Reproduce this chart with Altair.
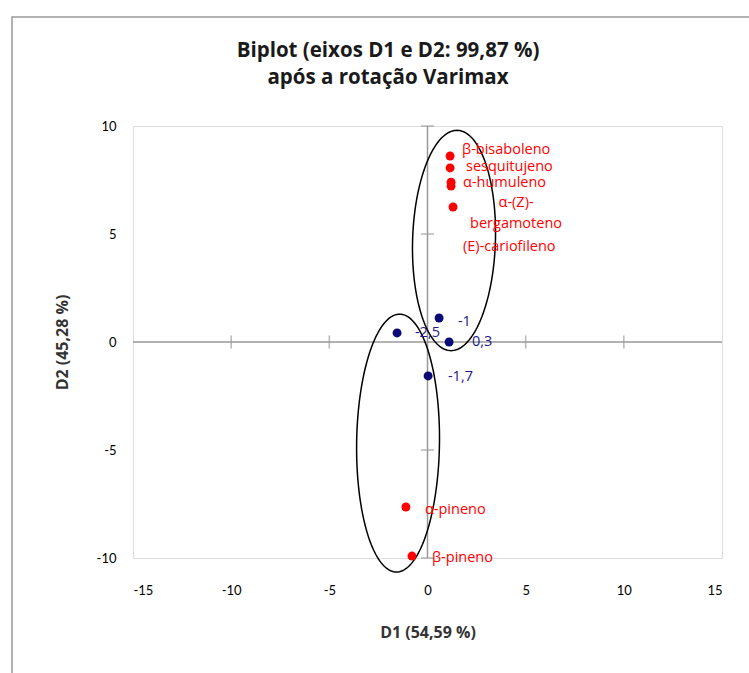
import altair as alt
import numpy as np
import pandas as pd

# ---- data ----
red_names = ["β-bisaboleno", "sesquitujeno", "α-humuleno", "(E)-cariofileno",
             "α-(Z)-bergamoteno", "α-pineno", "β-pineno"]
red_x = [1.15, 1.15, 1.2, 1.2, 1.3, -1.1, -0.79]
red_y = [8.61, 8.06, 7.4, 7.22, 6.25, -7.64, -9.91]
# label anchors (data units, left aligned)
red_lab_text = ["β-bisaboleno", "sesquitujeno", "α-humuleno", "(E)-cariofileno",
                "α-pineno", "β-pineno"]
red_lab_x = [1.76, 1.96, 1.81, 1.81, -0.13, 0.23]
red_lab_y = [8.89, 8.10, 7.36, 4.40, -7.78, -10.0]
# wrapped label (centre aligned)
wrap_text = ["α-(Z)-\nbergamoteno"]
wrap_x = [4.51]
wrap_y = [6.45]

blue_names = ["-1", "-2,5", "0,3", "-1,7"]
blue_x = [0.59, -1.55, 1.1, 0.03]
blue_y = [1.11, 0.42, 0.0, -1.57]
blue_lab_x = [1.55, -0.64, 2.27, 1.04]
blue_lab_y = [0.93, 0.42, 0.0, -1.62]

# confidence ellipses: centre, semi-axes, lean (data units)
ell_cx = [1.35, -1.5]
ell_cy = [4.7, -4.68]
ell_a = [2.11, 2.11]
ell_b = [5.1, 5.97]
ell_lean = [0.15, 0.08]

title_lines = ["Biplot (eixos D1 e D2: 99,87 %)", "após a rotação Varimax"]

x_ticks = [-15, -10, -5, 0, 5, 10, 15]
y_ticks = [-10, -5, 0, 5, 10]
cross_x = [-10, -5, 5, 10]
cross_y = [-10, -5, 5, 10]

FONT = "Lato"
LFONT = "Open Sans"

red_df = pd.DataFrame({"x": red_x, "y": red_y, "name": red_names})
red_lab_df = pd.DataFrame({"x": red_lab_x, "y": red_lab_y, "t": red_lab_text})
wrap_df = pd.DataFrame({"x": wrap_x, "y": wrap_y, "t": wrap_text})
blue_df = pd.DataFrame({"x": blue_x, "y": blue_y, "name": blue_names})
blue_lab_df = pd.DataFrame({"x": blue_lab_x, "y": blue_lab_y, "t": blue_names})

t = np.linspace(0, 2 * np.pi, 181)
rows = []
for k in range(len(ell_cx)):
    xs_ = ell_cx[k] + ell_a[k] * np.cos(t) + ell_lean[k] * np.sin(t)
    ys_ = ell_cy[k] + ell_b[k] * np.sin(t)
    for i, (xx, yy) in enumerate(zip(xs_, ys_)):
        rows.append({"x": xx, "y": yy, "e": k, "o": i})
ell_df = pd.DataFrame(rows)

xs = alt.Scale(domain=[-15, 15], nice=False, zero=False)
ys = alt.Scale(domain=[-10, 10], nice=False, zero=False)

base_x = alt.X("x:Q", scale=xs, title="D1 (54,59 %)",
               axis=alt.Axis(values=x_ticks, domain=False, ticks=False, grid=False,
                             labelExpr="datum.value + ''",
                             labelPadding=26, titlePadding=27, labelFontSize=13,
                             labelColor="#000000", titleFontSize=16, titleFontWeight="bold",
                             titleColor="#333333", labelFont=FONT, titleFont=LFONT))
base_y = alt.Y("y:Q", scale=ys, title="D2 (45,28 %)",
               axis=alt.Axis(values=y_ticks, domain=False, ticks=False, grid=False,
                             labelExpr="datum.value + ''",
                             labelPadding=17, titlePadding=26, labelFontSize=13,
                             labelColor="#000000", titleFontSize=16, titleFontWeight="bold",
                             titleColor="#333333", labelFont=FONT, titleFont=LFONT))

frame = alt.Chart(pd.DataFrame({"a": [0]})).mark_rect(
    fill=None, stroke="#999999", strokeWidth=1.5, clip=False
).encode(x=alt.value(-121), x2=alt.value(640), y=alt.value(-109), y2=alt.value(570))

title1 = alt.Chart(pd.DataFrame({"t": [title_lines[0]]})).mark_text(
    font=LFONT, fontSize=20.5, fontWeight="bold", color="#1a1a1a", align="center",
    baseline="middle", clip=False
).encode(text="t:N", x=alt.value(255), y=alt.value(-75))
title2 = alt.Chart(pd.DataFrame({"t": [title_lines[1]]})).mark_text(
    font=LFONT, fontSize=20.5, fontWeight="bold", color="#1a1a1a", align="center",
    baseline="middle", clip=False
).encode(text="t:N", x=alt.value(255), y=alt.value(-48))

zero_h = alt.Chart(pd.DataFrame({"y": [0]})).mark_rule(color="#999999", strokeWidth=1.5).encode(
    y=alt.Y("y:Q", scale=ys))
zero_v = alt.Chart(pd.DataFrame({"x": [0]})).mark_rule(color="#999999", strokeWidth=1.5).encode(
    x=alt.X("x:Q", scale=xs))

tick_x = alt.Chart(pd.DataFrame({"x": cross_x, "y": [0] * len(cross_x)})).mark_tick(
    color="#999999", thickness=1.5, size=13, orient="vertical").encode(
    x=alt.X("x:Q", scale=xs), y=alt.Y("y:Q", scale=ys))
tick_y = alt.Chart(pd.DataFrame({"x": [0] * len(cross_y), "y": cross_y})).mark_tick(
    color="#999999", thickness=1.5, size=13, orient="horizontal").encode(
    x=alt.X("x:Q", scale=xs), y=alt.Y("y:Q", scale=ys))

ellipses = alt.Chart(ell_df).mark_line(color="#000000", strokeWidth=1.5).encode(
    x=alt.X("x:Q", scale=xs), y=alt.Y("y:Q", scale=ys), detail="e:N", order="o:Q")

axes_layer = alt.Chart(red_df).mark_point(opacity=0).encode(x=base_x, y=base_y)

red_pts = alt.Chart(red_df).mark_circle(color="#FF0000", size=80, opacity=1).encode(
    x=alt.X("x:Q", scale=xs), y=alt.Y("y:Q", scale=ys))
blue_pts = alt.Chart(blue_df).mark_circle(color="#0A0A78", size=80, opacity=1).encode(
    x=alt.X("x:Q", scale=xs), y=alt.Y("y:Q", scale=ys))

LSIZE = 14.5
red_txt = alt.Chart(red_lab_df).mark_text(align="left", baseline="middle", color="#FF0000",
                                          font=LFONT, fontSize=LSIZE).encode(
    x=alt.X("x:Q", scale=xs), y=alt.Y("y:Q", scale=ys), text="t:N")
wrap_txt = alt.Chart(wrap_df).mark_text(align="center", baseline="middle", color="#FF0000",
                                        font=LFONT, fontSize=LSIZE, lineBreak="\n",
                                        lineHeight=21).encode(
    x=alt.X("x:Q", scale=xs), y=alt.Y("y:Q", scale=ys), text="t:N")
blue_txt = alt.Chart(blue_lab_df).mark_text(align="left", baseline="middle", color="#1A1A8C",
                                            font=LFONT, fontSize=LSIZE).encode(
    x=alt.X("x:Q", scale=xs), y=alt.Y("y:Q", scale=ys), text="t:N")

chart = alt.layer(
    frame, title1, title2, axes_layer, zero_h, zero_v, tick_x, tick_y, ellipses,
    red_pts, blue_pts, red_txt, wrap_txt, blue_txt
).properties(
    width=589, height=432,
    autosize=alt.AutoSizeParams(type="none"),
    padding={"left": 133, "top": 126, "right": 27, "bottom": 115},
).configure_view(stroke="#888888", strokeWidth=1.5).configure(background="white")

chart.save("out.html", embed_options={"renderer": "svg", "actions": False})
